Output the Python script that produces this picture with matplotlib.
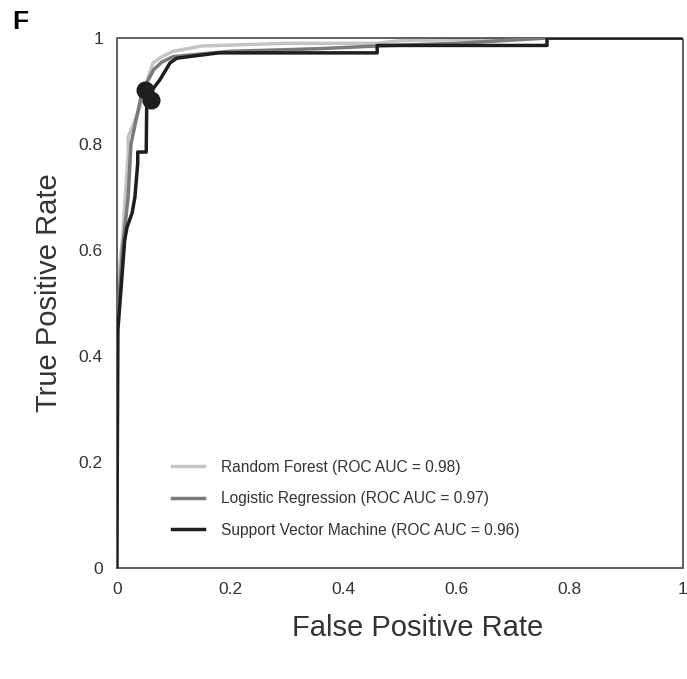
import matplotlib
matplotlib.use("Agg")
from matplotlib import pyplot as plt

# ROC curves
rf_fpr = [0.0, 0.0, 0.004, 0.01, 0.015, 0.02, 0.02, 0.03, 0.041, 0.058, 0.064, 0.08, 0.1, 0.15, 0.3, 0.46, 0.5, 0.75, 1.0]
rf_tpr = [0.0, 0.5, 0.56, 0.62, 0.70, 0.78, 0.813, 0.84, 0.87, 0.934, 0.953, 0.965, 0.975, 0.985, 0.99, 0.99, 0.995, 1.0, 1.0]

lr_fpr = [0.0, 0.0, 0.01, 0.02, 0.025, 0.035, 0.045, 0.055, 0.065, 0.08, 0.1, 0.2, 0.3, 0.36, 0.46, 0.6, 0.76, 1.0]
lr_tpr = [0.0, 0.45, 0.6, 0.7, 0.8, 0.85, 0.9, 0.92, 0.94, 0.955, 0.965, 0.975, 0.978, 0.98, 0.985, 0.99, 1.0, 1.0]

svm_fpr = [0.0, 0.002, 0.014, 0.018, 0.027, 0.032, 0.037, 0.037, 0.052, 0.053, 0.076, 0.094, 0.106, 0.18, 0.46, 0.46, 0.76, 0.76, 1.0]
svm_tpr = [0.0, 0.45, 0.619, 0.643, 0.67, 0.70, 0.764, 0.785, 0.785, 0.889, 0.921, 0.953, 0.962, 0.972, 0.972, 0.986, 0.986, 1.0, 1.0]

# operating points (dark dots)
point_fpr = [0.049, 0.061]
point_tpr = [0.902, 0.883]

labels = ["Random Forest (ROC AUC = 0.98)",
          "Logistic Regression (ROC AUC = 0.97)",
          "Support Vector Machine (ROC AUC = 0.96)"]

plt.rcParams['font.family'] = ['Liberation Sans', 'DejaVu Sans']

fig = plt.figure(figsize=(6.87, 6.79), dpi=100)
ax = fig.add_axes([0.170, 0.163, 0.824, 0.781])

ax.plot(rf_fpr, rf_tpr, color='#c4c4c4', lw=2.5, label=labels[0], zorder=2)
ax.plot(lr_fpr, lr_tpr, color='#7a7a7a', lw=2.5, label=labels[1], zorder=3)
ax.plot(svm_fpr, svm_tpr, color='#1e1e1e', lw=2.5, label=labels[2], zorder=4)
ax.plot(point_fpr, point_tpr, 'o', color='#1e1e1e', ms=12, zorder=5)

ax.set_xlim(0, 1)
ax.set_ylim(0, 1)
ticks = [0, 0.2, 0.4, 0.6, 0.8, 1]
tick_labels = ['0', '0.2', '0.4', '0.6', '0.8', '1']
ax.set_xticks(ticks)
ax.set_xticklabels(tick_labels)
ax.set_yticks(ticks)
ax.set_yticklabels(tick_labels)
ax.tick_params(length=0, labelsize=12.5, labelcolor='#333333', pad=10)
for sp in ax.spines.values():
    sp.set_color('#444444')
    sp.set_linewidth(1.2)
    sp.set_linestyle((0, (1, 1)))

ax.set_xlabel('False Positive Rate', fontsize=21, color='#333333')
ax.set_ylabel('True Positive Rate', fontsize=21, color='#333333')
ax.xaxis.set_label_coords(0.531, -0.086)
ax.yaxis.set_label_coords(-0.095, 0.52)

ax.legend(loc='lower left', bbox_to_anchor=(0.097, 0.058), frameon=False,
          borderaxespad=0, borderpad=0,
          fontsize=11.2, handlelength=2.1, labelspacing=1.05, handletextpad=1.1,
          labelcolor='#333333')

fig.text(0.018, 0.968, 'F', fontsize=19, fontweight='bold', va='center')

fig.savefig('out.png', dpi=100)
